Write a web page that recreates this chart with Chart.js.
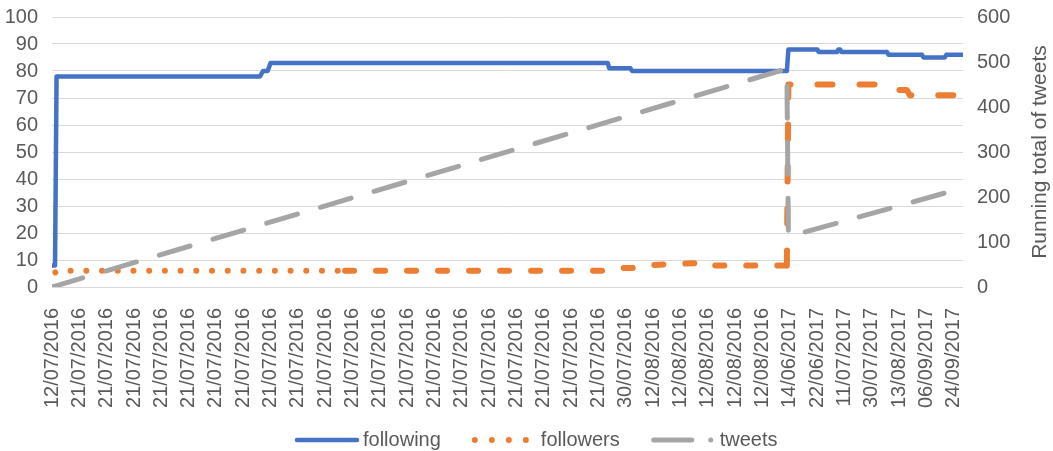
<!DOCTYPE html>
<html>
<head>
<meta charset="utf-8">
<script src="https://cdn.jsdelivr.net/npm/chart.js@4/dist/chart.umd.min.js"></script>
<style>
  html, body { margin: 0; padding: 0; background: #ffffff; }
  #wrap { position: relative; width: 1053px; height: 451px; }
</style>
</head>
<body>
<div id="wrap"><canvas id="chart"></canvas></div>
<script>
// Row position (tweet number) of each date label along the bottom axis
const tickRows = [0, 18, 36, 54, 72, 90, 108, 126, 144, 162, 180, 198, 216, 234, 252, 270, 288,
  306, 324, 342, 360, 378, 396, 414, 432, 450, 468, 486, 504, 522, 540, 558, 576, 594];
const dateLabels = ['12/07/2016',
  '21/07/2016', '21/07/2016', '21/07/2016', '21/07/2016', '21/07/2016',
  '21/07/2016', '21/07/2016', '21/07/2016', '21/07/2016', '21/07/2016',
  '21/07/2016', '21/07/2016', '21/07/2016', '21/07/2016', '21/07/2016',
  '21/07/2016', '21/07/2016', '21/07/2016', '21/07/2016', '21/07/2016',
  '30/07/2016',
  '12/08/2016', '12/08/2016', '12/08/2016', '12/08/2016', '12/08/2016',
  '14/06/2017', '22/06/2017', '11/07/2017', '30/07/2017', '13/08/2017', '06/09/2017', '24/09/2017'];

// following (left axis): rows where the count changes, and the count there
const followingRows = [0, 2, 3, 137, 139, 142, 144, 366, 367, 381, 382, 484, 485, 504, 505, 517, 518, 519, 520, 550, 551, 573, 574, 588, 589, 600];
const followingVals = [8, 8, 78, 78, 80, 80, 83, 83, 81, 81, 80, 80, 88, 88, 87, 87, 88, 88, 87, 87, 86, 86, 85, 85, 86, 86];

// followers (left axis)
const followersRows = [0, 1, 4, 193, 362, 369, 382, 389, 430, 432, 434, 484, 485, 548, 550, 552, 563, 565, 600];
const followersVals = [0, 5, 6, 6, 6, 7, 7, 8, 9, 9, 8, 8, 75, 75, 74, 73, 73, 71, 71];

// tweets running total (right axis)
const tweetsRows = [0, 484, 485, 600];
const tweetsVals = [0, 485, 112, 220];

const axisTitleRight = 'Running total of tweets';

const pts = (rows, vals) => rows.map((r, i) => ({ x: r, y: vals[i] }));

const textColor = '#595959';
const gridColor = '#d9d9d9';
const fontFamily = '"Liberation Sans", Arial, sans-serif';
const font20 = { family: fontFamily, size: 20 };

// followers line: round dots first, then short dashes, then longer dashes
const dotDash = [0.01, 15.7];
const shortDash = [9, 22];
const longDash = [15, 27];

// legend line samples, one per series
const legendDashes = [[], [0.01, 17], [38, 19, 0.01, 40]];
const legendWidths = [4.5, 6, 5];

const rightTitle = {
  id: 'rightTitle',
  afterDraw(chart) {
    const { ctx, chartArea } = chart;
    ctx.save();
    ctx.fillStyle = textColor;
    ctx.font = '21px ' + fontFamily;
    ctx.textAlign = 'center';
    ctx.textBaseline = 'middle';
    ctx.translate(1040, (chartArea.top + chartArea.bottom) / 2);
    ctx.rotate(-Math.PI / 2);
    ctx.fillText(axisTitleRight, 0, 0);
    ctx.restore();
  }
};

const lineLegend = {
  id: 'lineLegend',
  afterDraw(chart) {
    const { ctx } = chart;
    const y = 440;
    let x = 295;
    ctx.save();
    ctx.font = '20px ' + fontFamily;
    ctx.textBaseline = 'middle';
    ctx.textAlign = 'left';
    chart.data.datasets.forEach((ds, i) => {
      ctx.save();
      ctx.strokeStyle = ds.borderColor;
      ctx.lineWidth = legendWidths[i];
      ctx.lineCap = 'round';
      ctx.setLineDash(legendDashes[i]);
      ctx.beginPath();
      ctx.moveTo(x + 2, y);
      ctx.lineTo(x + 62, y);
      ctx.stroke();
      ctx.restore();
      ctx.fillStyle = textColor;
      ctx.fillText(ds.label, x + 68, y);
      x += 68 + ctx.measureText(ds.label).width + 32;
    });
    ctx.restore();
  }
};

new Chart(document.getElementById('chart'), {
  type: 'line',
  data: {
    datasets: [
      {
        label: 'following',
        data: pts(followingRows, followingVals),
        yAxisID: 'y',
        borderColor: '#4472c4',
        backgroundColor: '#4472c4',
        borderWidth: 4.5,
        borderCapStyle: 'round',
        borderJoinStyle: 'round',
        pointRadius: 0,
        order: 3
      },
      {
        label: 'followers',
        data: pts(followersRows, followersVals),
        yAxisID: 'y',
        borderColor: '#ed7d31',
        backgroundColor: '#ed7d31',
        borderWidth: 6,
        borderCapStyle: 'round',
        borderJoinStyle: 'round',
        pointRadius: 0,
        segment: {
          borderDash: ctx => ctx.p0.parsed.x < 193 ? dotDash : (ctx.p0.parsed.x < 484 ? shortDash : longDash)
        },
        order: 2
      },
      {
        label: 'tweets',
        data: pts(tweetsRows, tweetsVals),
        yAxisID: 'y1',
        borderColor: '#a5a5a5',
        backgroundColor: '#a5a5a5',
        borderWidth: 5,
        borderCapStyle: 'round',
        borderJoinStyle: 'round',
        borderDash: [32, 24],
        pointRadius: 0,
        order: 1
      }
    ]
  },
  options: {
    responsive: true,
    maintainAspectRatio: false,
    animation: false,
    layout: { padding: { top: 17, left: 0, right: 0, bottom: 40 } },
    plugins: {
      tooltip: { enabled: false },
      legend: { display: false }
    },
    scales: {
      x: {
        type: 'linear',
        position: 'bottom',
        min: 0,
        max: 600,
        grid: { display: false },
        border: { display: false },
        afterBuildTicks(scale) { scale.ticks = tickRows.map(v => ({ value: v })); },
        afterFit(scale) { scale.height = 124; },
        ticks: {
          autoSkip: false,
          maxRotation: 90,
          minRotation: 90,
          padding: 13,
          color: textColor,
          font: font20,
          callback: v => dateLabels[tickRows.indexOf(v)]
        }
      },
      y: {
        position: 'left',
        min: 0,
        max: 100,
        afterFit(scale) { scale.width = 52; },
        grid: { color: gridColor, lineWidth: 1, drawTicks: true, tickLength: 12, tickColor: 'rgba(0,0,0,0)' },
        border: { display: false },
        ticks: { stepSize: 10, autoSkip: false, padding: 2, color: textColor, font: font20 }
      },
      y1: {
        position: 'right',
        min: 0,
        max: 600,
        afterFit(scale) { scale.width = 90; },
        grid: { display: true, drawOnChartArea: false, drawTicks: true, tickLength: 12, tickColor: 'rgba(0,0,0,0)' },
        border: { display: false },
        ticks: { stepSize: 100, autoSkip: false, padding: 2, color: textColor, font: font20 }
      }
    }
  },
  plugins: [rightTitle, lineLegend]
});
</script>
</body>
</html>
